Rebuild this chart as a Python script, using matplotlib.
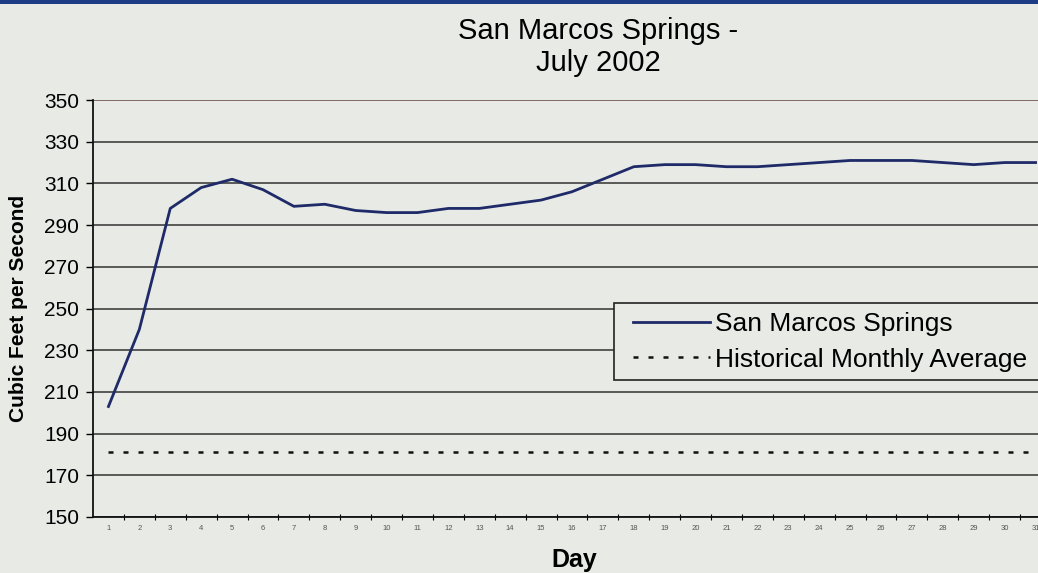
import numpy as np
import matplotlib
matplotlib.use('Agg')
import matplotlib.pyplot as plt
from matplotlib.patches import Rectangle
from matplotlib.lines import Line2D
from matplotlib.legend_handler import HandlerLine2D

# ── data ──────────────────────────────────────────────────────────────────────
days = list(range(1, 32))
flow_cfs = [203, 240, 298, 308, 312, 307, 299, 300, 297, 296,
            296, 298, 298, 300, 302, 306, 312, 318, 319, 319,
            318, 318, 319, 320, 321, 321, 321, 320, 319, 320, 320]
hist_avg = 181
yticks = list(range(150, 351, 20))

TITLE = "San Marcos Springs -\nJuly 2002"
BG = '#e8eae6'
NAVY = '#1f2a68'

plt.rcParams['font.family'] = ['Liberation Sans', 'DejaVu Sans']

fig = plt.figure(figsize=(10.38, 5.73), dpi=100, facecolor=BG)
# plot area runs off the right edge, like the scan
ax = fig.add_axes([93 / 1038, 1 - 517 / 573, 958 / 1038, 417 / 573])
ax.set_facecolor(BG)

ax.plot(days, flow_cfs, color=NAVY, lw=2.0, label='San Marcos Springs',
        solid_joinstyle='round', zorder=3)
ax.plot([1, 31.5], [hist_avg, hist_avg], color='#111111', lw=1.8,
        linestyle=(0, (2, 4)), label='Historical Monthly Average', zorder=3)

ax.set_xlim(0.5, 31.5)
ax.set_ylim(150, 350)
ax.set_yticks(yticks)
ax.set_xticks(days)
ax.set_xticklabels([str(d) for d in days], fontsize=5.5, color='#555555')
ax.set_xticks(np.arange(1.5, 31.5, 1), minor=True)
ax.tick_params(axis='x', which='major', length=0, pad=6)
ax.tick_params(axis='x', which='minor', length=4, direction='inout', width=0.8)
ax.tick_params(axis='y', length=5, width=1, labelsize=15, pad=5)

ax.yaxis.grid(True, color='#404040', lw=1.2)
ax.get_ygridlines()[-1].set_color('#6e5550')
ax.set_axisbelow(True)

for side in ['top', 'right']:
    ax.spines[side].set_visible(False)
for side in ['left', 'bottom']:
    ax.spines[side].set_linewidth(1.3)
    ax.spines[side].set_color('#111111')

ax.set_ylabel('Cubic Feet per Second', fontsize=15, fontweight='bold')
ax.yaxis.set_label_coords(-0.068, 0.5)
ax.set_xlabel('Day', fontsize=18, fontweight='bold')
ax.xaxis.set_label_coords(0.502, -0.075)

fig.text(598 / 1038, 1 - 47 / 573, TITLE, ha='center', va='center',
         fontsize=21, linespacing=1.2)

# legend box is wider than the figure, its right side is cut off as in the scan
leg = ax.legend(loc='upper left', bbox_to_anchor=(0.544, 0.326, 0.47, 0.187),
                mode='expand', borderaxespad=0, fontsize=19, handlelength=3.3,
                handletextpad=0.2, labelspacing=0.45, borderpad=0.33,
                handler_map={Line2D: HandlerLine2D(xpad=0.4)},
                fancybox=False, framealpha=1, facecolor=BG, edgecolor='#222222')
leg.get_frame().set_linewidth(1.2)

# thin blue border across the top of the scan
fig.patches.append(Rectangle((0, 1 - 4 / 573), 1, 4 / 573, transform=fig.transFigure,
                             facecolor='#1d3c86', edgecolor='none', zorder=10))

fig.savefig('out.png', dpi=100, facecolor=BG)
